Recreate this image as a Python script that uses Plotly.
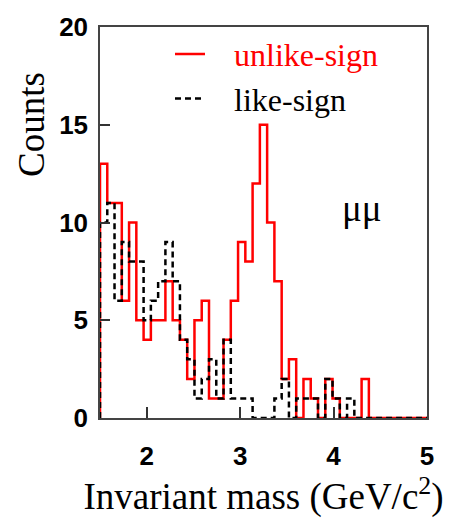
import numpy as np
import plotly.graph_objects as go

# Histogram definition (bins of the invariant-mass spectrum)
x_min, x_max, n_bins = 1.5, 5.0, 45

unlike_sign = [13, 11, 11, 6, 10, 5, 4, 5, 5, 7, 5, 4, 2, 5, 6, 1, 1, 4, 6, 9,
               8, 12, 15, 10, 7, 2, 3, 0, 2, 1, 0, 2, 1, 0, 0, 0, 2, 0, 0, 0,
               0, 0, 0, 0, 0]
like_sign = [10, 11, 6, 9, 8, 8, 5, 6, 7, 9, 7, 4, 3, 1, 2, 3, 1, 4, 1, 1,
             1, 0, 0, 0, 1, 2, 0, 1, 1, 1, 0, 2, 1, 0, 1, 0, 0, 0, 0, 0,
             0, 0, 0, 0, 0]

x_ticks = [2, 3, 4, 5]
y_ticks = [0, 5, 10, 15, 20]

edges = np.linspace(x_min, x_max, n_bins + 1)


def step_xy(counts):
    xs = [edges[0]] + list(edges[:-1]) + [edges[-1]]
    ys = [0] + list(counts) + [counts[-1]]
    return xs, ys


gap = "\u00a0\u00a0\u00a0"
fig = go.Figure()
xs, ys = step_xy(unlike_sign)
fig.add_trace(go.Scatter(x=xs, y=ys, mode="lines", line_shape="hv",
                         line=dict(color="#ff0000", width=2.5),
                         name=gap + "<span style='color:#ff0000'>unlike-sign</span>"))
xs, ys = step_xy(like_sign)
fig.add_trace(go.Scatter(x=xs, y=ys, mode="lines", line_shape="hv",
                         line=dict(color="#000000", width=2.5, dash="6px,4px"),
                         name=gap + "like-sign"))

fig.add_annotation(text="Counts", xref="paper", yref="paper",
                   x=-0.208, y=0.752, xanchor="center", yanchor="middle",
                   textangle=-90, showarrow=False,
                   font=dict(family="Liberation Serif", size=37, color="#000"))
fig.add_annotation(text="\u03bc\u03bc", x=4.3, y=10.7, xref="x", yref="y",
                   xanchor="center", yanchor="middle", showarrow=False,
                   font=dict(family="Liberation Serif", size=37, color="#000"))

fig.update_layout(
    width=452, height=519,
    margin=dict(l=100, r=25, t=22, b=101),
    paper_bgcolor="white", plot_bgcolor="white",
    showlegend=True,
    legend=dict(x=(170 - 100) / 327, y=(418.3 - 22) / 396, xanchor="left", yanchor="top",
                bgcolor="rgba(0,0,0,0)", borderwidth=0, itemwidth=30,
                tracegroupgap=0,
                font=dict(family="Liberation Serif", size=32, color="#000")),
    xaxis=dict(range=[x_min, x_max], tickvals=x_ticks, ticks="inside", ticklen=11,
               tickwidth=1.5, tickcolor="#333", showline=True, linecolor="#444",
               linewidth=1.5, mirror=True, showgrid=False, zeroline=False,
               ticklabelstandoff=14,
               tickfont=dict(family="Liberation Sans", size=26, color="#000", weight="bold"),
               title=dict(text="Invariant mass (GeV/c<sup>2</sup>)", standoff=5,
                          font=dict(family="Liberation Serif", size=37, color="#000"))),
    yaxis=dict(range=[0, 20], tickvals=y_ticks, ticks="inside", ticklen=10,
               tickwidth=1.5, tickcolor="#333", showline=True, linecolor="#444",
               linewidth=1.5, mirror=True, showgrid=False, zeroline=False,
               ticklabelstandoff=5,
               tickfont=dict(family="Liberation Sans", size=26, color="#000", weight="bold")),
)

fig.write_html("out.html")
